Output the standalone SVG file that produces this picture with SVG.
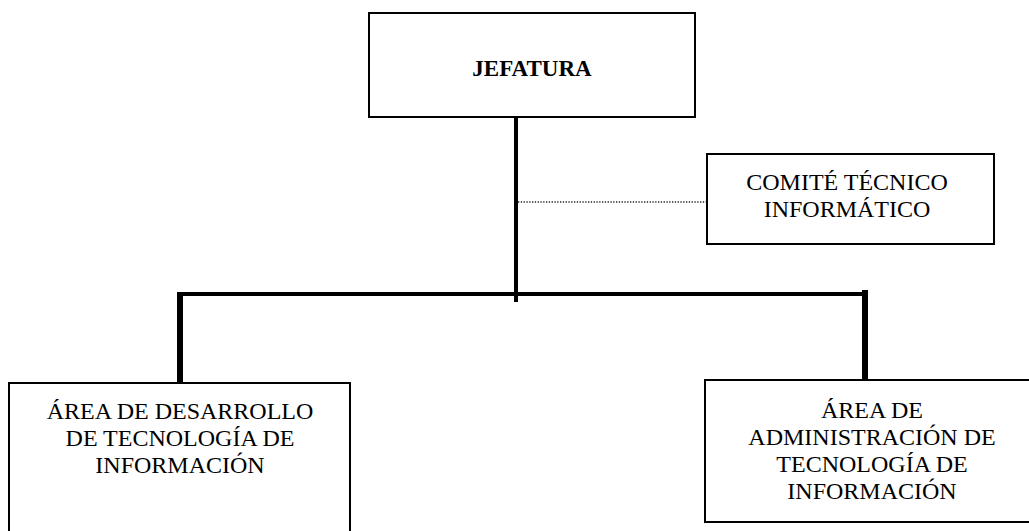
<svg xmlns="http://www.w3.org/2000/svg" width="1029" height="531" viewBox="0 0 1029 531">
  <style>
    .box { fill: #ffffff; stroke: #000000; stroke-width: 2; }
    .lbl { font-size: 24px; fill: #000000; text-anchor: middle; }
    .bold { font-weight: bold; font-size: 23px; }
    .trunk { stroke: #000000; stroke-width: 4; fill: none; }
    .drop { stroke: #000000; stroke-width: 6; fill: none; }
    .dotted { stroke: #222222; stroke-width: 1.3; stroke-dasharray: 1.3 1.5; fill: none; }
  </style>
  <rect width="1029" height="531" fill="#ffffff"/>

  <!-- connectors -->
  <g id="connectors">
    <line class="trunk" x1="516" y1="117" x2="516" y2="302"/>
    <line class="dotted" x1="518" y1="202" x2="707" y2="202"/>
    <line class="trunk" x1="178" y1="294" x2="867" y2="294" stroke-width="3.5"/>
    <line class="drop" x1="180" y1="292" x2="180" y2="388"/>
    <line class="drop" x1="865" y1="290" x2="865" y2="386"/>
  </g>

  <g font-family="Liberation Serif, Times New Roman, Tinos, Times, serif">
    <!-- head office -->
    <g id="jefatura">
      <rect class="box" x="369" y="13" width="326" height="104" stroke-width="2.5"/>
      <text class="lbl bold" x="532" y="76">JEFATURA</text>
    </g>

    <!-- advisory committee -->
    <g id="comite">
      <rect class="box" x="707" y="154" width="287" height="90"/>
      <text class="lbl" x="847" y="190">COMITÉ TÉCNICO</text>
      <text class="lbl" x="847" y="217">INFORMÁTICO</text>
    </g>

    <!-- development area -->
    <g id="area-desarrollo">
      <rect class="box" x="9" y="383" width="341" height="170"/>
      <text class="lbl" x="180" y="419">ÁREA DE DESARROLLO</text>
      <text class="lbl" x="180" y="446">DE TECNOLOGÍA DE</text>
      <text class="lbl" x="180" y="473">INFORMACIÓN</text>
    </g>

    <!-- administration area -->
    <g id="area-administracion">
      <rect class="box" x="705" y="380" width="340" height="142"/>
      <text class="lbl" x="872" y="418">ÁREA DE</text>
      <text class="lbl" x="872" y="445">ADMINISTRACIÓN DE</text>
      <text class="lbl" x="872" y="472">TECNOLOGÍA DE</text>
      <text class="lbl" x="872" y="499">INFORMACIÓN</text>
    </g>
  </g>
</svg>
